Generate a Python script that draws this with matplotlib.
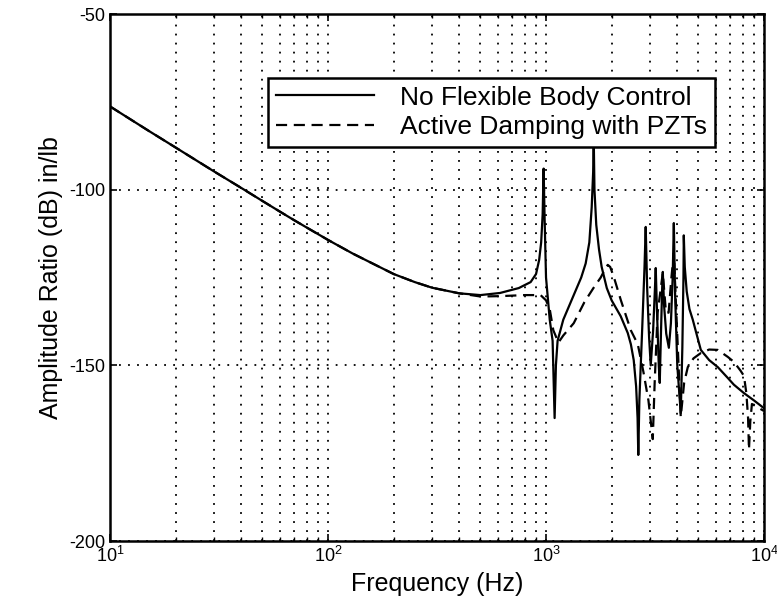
import numpy as np
import matplotlib
matplotlib.use("Agg")
import matplotlib.pyplot as plt

plt.rcParams['font.family'] = ['Liberation Sans', 'DejaVu Sans']
plt.rcParams['mathtext.fontset'] = 'custom'
plt.rcParams['mathtext.rm'] = 'Liberation Sans'
plt.rcParams['mathtext.it'] = 'Liberation Sans'
plt.rcParams['axes.unicode_minus'] = False

# --- values ---
# low-frequency part, shared by both curves
freq_low = [10, 15, 20, 30, 40, 50, 60, 70, 80, 100, 130, 160, 200, 250, 300, 400]
db_low = [-76.3, -83.2, -88, -94.8, -99.5, -103.2, -106.2, -108.7, -110.8, -114.3,
          -118.2, -121, -124, -126.3, -127.9, -129.5]

# No flexible body control (solid)
freq_open = freq_low + [500, 615, 750, 850, 900, 930, 950, 965, 975, 985, 1000, 1040,
                        1072, 1095, 1110, 1130, 1200, 1340, 1450, 1520, 1580, 1620,
                        1645, 1655, 1668, 1700, 1750, 1800, 1900, 2000, 2200, 2371,
                        2450, 2525, 2590, 2630, 2650, 2680, 2760, 2830, 2866, 2910,
                        2970, 3022, 3100, 3160, 3186, 3230, 3290, 3324, 3370, 3410,
                        3433, 3480, 3560, 3660, 3740, 3810, 3857, 3910, 4000, 4150,
                        4220, 4270, 4285, 4330, 4420, 4550, 4711, 4900, 5129, 5600,
                        6135, 6800, 7271, 8090, 9000, 10000]
db_open = db_low + [-130, -129.4, -128, -126.3, -124, -120, -115, -107, -94, -108, -125,
                    -137, -143, -165, -150, -143, -137, -130, -125, -121, -115, -105,
                    -95, -85, -100, -110, -117, -122, -128, -131.5, -136, -140.8, -144,
                    -148.5, -156, -165, -175.5, -160, -140, -122, -110.6, -128, -142,
                    -150, -140, -128, -122.3, -135, -150, -155, -140, -128, -123.4,
                    -133, -141, -145, -138, -125, -109.5, -130, -150, -163.6, -145,
                    -125, -113, -122, -129, -134, -137, -141, -145.6, -148.5, -150.5,
                    -153.5, -155.5, -157.9, -160, -162.2]

# Active damping with PZTs (dashed)
freq_pzt = freq_low + [500, 615, 800, 944, 1000, 1040, 1080, 1140, 1200, 1340, 1500,
                       1650, 1782, 1870, 1919, 1970, 2050, 2203, 2448, 2636, 2800,
                       2950, 3088, 3150, 3250, 3433, 3550, 3650, 3760, 3857, 3960,
                       4150, 4300, 4470, 4750, 5129, 5600, 6135, 6822, 7271, 7800,
                       8090, 8300, 8450, 8530, 8650, 8800, 10000]
db_pzt = db_low + [-130.4, -130.3, -130, -130, -131.5, -134, -140, -143.5, -141.5, -138,
                   -132, -128, -125, -122.5, -121.4, -122, -125, -131.4, -140, -144,
                   -152, -160, -171, -155, -135, -123.7, -135, -135, -125, -118, -135,
                   -164.7, -155, -150.5, -148, -146.5, -145.5, -145.6, -147.6, -149,
                   -151.5, -153, -158, -165, -174, -166, -161, -163]

labels = ['No Flexible Body Control', 'Active Damping with PZTs']

fig = plt.figure(figsize=(7.77, 6.02), dpi=100)
ax = fig.add_axes([0.1416, 0.1013, 0.8417, 0.8754])

ax.semilogx(freq_open, db_open, 'k-', lw=1.6, label=labels[0])
ax.semilogx(freq_pzt, db_pzt, 'k--', lw=1.6, dashes=(5, 3), label=labels[1])

ax.set_xlim(10, 1e4)
ax.set_ylim(-200, -50)
ax.set_yticks([-200, -150, -100, -50])

ax.grid(True, which='both', axis='x', color='k', linestyle=(0, (1, 4)), lw=1.3)
ax.grid(True, which='major', axis='y', color='k', linestyle=(0, (1, 4)), lw=1.3)

ax.tick_params(which='both', direction='in', top=True, right=True, labelsize=13)
ax.tick_params(which='major', length=5, width=1.2)
ax.tick_params(which='minor', length=3, width=1)
for s in ax.spines.values():
    s.set_linewidth(1.8)

ax.set_xlabel('Frequency (Hz)', fontsize=18)
ax.set_ylabel('Amplitude Ratio (dB) in/lb', fontsize=18)

leg = ax.legend(loc='upper left', bbox_to_anchor=(0.242, 0.879), borderaxespad=0,
                fontsize=19, fancybox=False, framealpha=1, edgecolor='k',
                handlelength=3.7, handletextpad=1.0, labelspacing=0.2,
                borderpad=0.3)
leg.get_frame().set_linewidth(1.8)

fig.savefig('out.png', dpi=100)
